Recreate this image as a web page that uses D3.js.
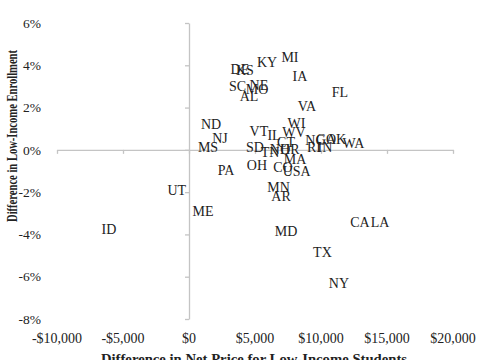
<!DOCTYPE html>
<html>
<head>
<meta charset="utf-8">
<script src="https://cdn.jsdelivr.net/npm/d3@7"></script>
<style>
  html, body { margin: 0; padding: 0; background: #fff; }
  svg { display: block; font-family: "Liberation Serif", "Times New Roman", serif; }
</style>
</head>
<body>
<svg id="chart" width="485" height="360"></svg>
<script>
// ---- data ----
const states = ["MI","KY","DE","KS","IA","SC","NE","MO","AL","FL","VA","ND","NJ","MS","VT","WI","WV","IL","CT","SD","TN","NH","OR","NC","GA","OK","WA","RI","IN","MA","OH","CO","USA","PA","MN","AR","UT","ME","ID","MD","CA","LA","TX","NY"];
const netPrice = [7650,5910,3860,4240,8410,3670,5300,5150,4550,11440,8940,1670,2350,1440,5300,8140,7950,6440,7350,5000,6140,6890,7650,9550,10380,11140,12460,9470,10300,8030,5150,7120,8160,2800,6780,6970,-930,1060,-6060,7350,12950,14470,10110,11360];
const enrollment = [4.38,4.14,3.83,3.78,3.50,3.02,3.07,2.88,2.52,2.71,2.09,1.23,0.55,0.15,0.91,1.26,0.83,0.70,0.39,0.15,-0.09,0.04,0.04,0.47,0.52,0.52,0.31,0.14,0.14,-0.44,-0.71,-0.81,-1.00,-0.97,-1.77,-2.21,-1.90,-2.88,-3.74,-3.84,-3.40,-3.40,-4.82,-6.31];
const xTicks = [-10000,-5000,0,5000,10000,15000,20000];
const xTickLabels = ["-$10,000","-$5,000","$0","$5,000","$10,000","$15,000","$20,000"];
const yTicks = [-8,-6,-4,-2,0,2,4,6];
const yTickLabels = ["-8%","-6%","-4%","-2%","0%","2%","4%","6%"];
const xTitle = "Difference in Net Price for Low-Income Students";
const yTitle = "Difference in Low-Income Enrollment";

// ---- chart ----
const svg = d3.select("#chart");
const x = d3.scaleLinear().domain([-10000, 20000]).range([57, 453]);
const y = d3.scaleLinear().domain([-8, 6]).range([319, 23]);
const axisColor = "#c4c4c4";
const textColor = "#222";

// x axis at y = 0
const gx = svg.append("g").attr("transform", `translate(0,${y(0)})`)
  .call(d3.axisBottom(x).tickValues(xTicks).tickSizeInner(4).tickSizeOuter(0).tickFormat(""));
// y axis at x = 0
const gy = svg.append("g").attr("transform", `translate(${x(0)},0)`)
  .call(d3.axisLeft(y).tickValues(yTicks).tickSizeInner(4).tickSizeOuter(0).tickFormat(""));
[gx, gy].forEach(g => {
  g.selectAll("path, line").attr("stroke", axisColor).attr("stroke-width", 1.3);
});

// tick labels (low position)
svg.append("g").selectAll("text").data(xTicks).join("text")
  .attr("x", d => x(d)).attr("y", 338).attr("dy", "0.35em")
  .attr("text-anchor", "middle").attr("font-size", 14).attr("fill", textColor)
  .text((d, i) => xTickLabels[i]);
svg.append("g").selectAll("text").data(yTicks).join("text")
  .attr("x", 41).attr("y", d => y(d)).attr("dy", "0.35em")
  .attr("text-anchor", "end").attr("font-size", 13.5).attr("fill", textColor)
  .text((d, i) => yTickLabels[i]);

// data labels
const data = states.map((s, i) => ({ s, x: netPrice[i], y: enrollment[i] }));
svg.append("g").selectAll("text").data(data).join("text")
  .attr("x", d => x(d.x)).attr("y", d => y(d.y)).attr("dy", "0.35em")
  .attr("text-anchor", "middle").attr("font-size", 14).attr("fill", textColor)
  .text(d => d.s);

// axis titles
svg.append("text").attr("x", 254).attr("y", 364)
  .attr("text-anchor", "middle").attr("font-size", 14.7).attr("font-weight", "bold").attr("fill", textColor)
  .text(xTitle);
svg.append("text").attr("transform", "translate(17,136) rotate(-90)")
  .attr("text-anchor", "middle").attr("font-size", 14).attr("font-weight", "bold").attr("fill", textColor)
  .attr("textLength", 172).attr("lengthAdjust", "spacingAndGlyphs")
  .text(yTitle);
</script>
</body>
</html>
